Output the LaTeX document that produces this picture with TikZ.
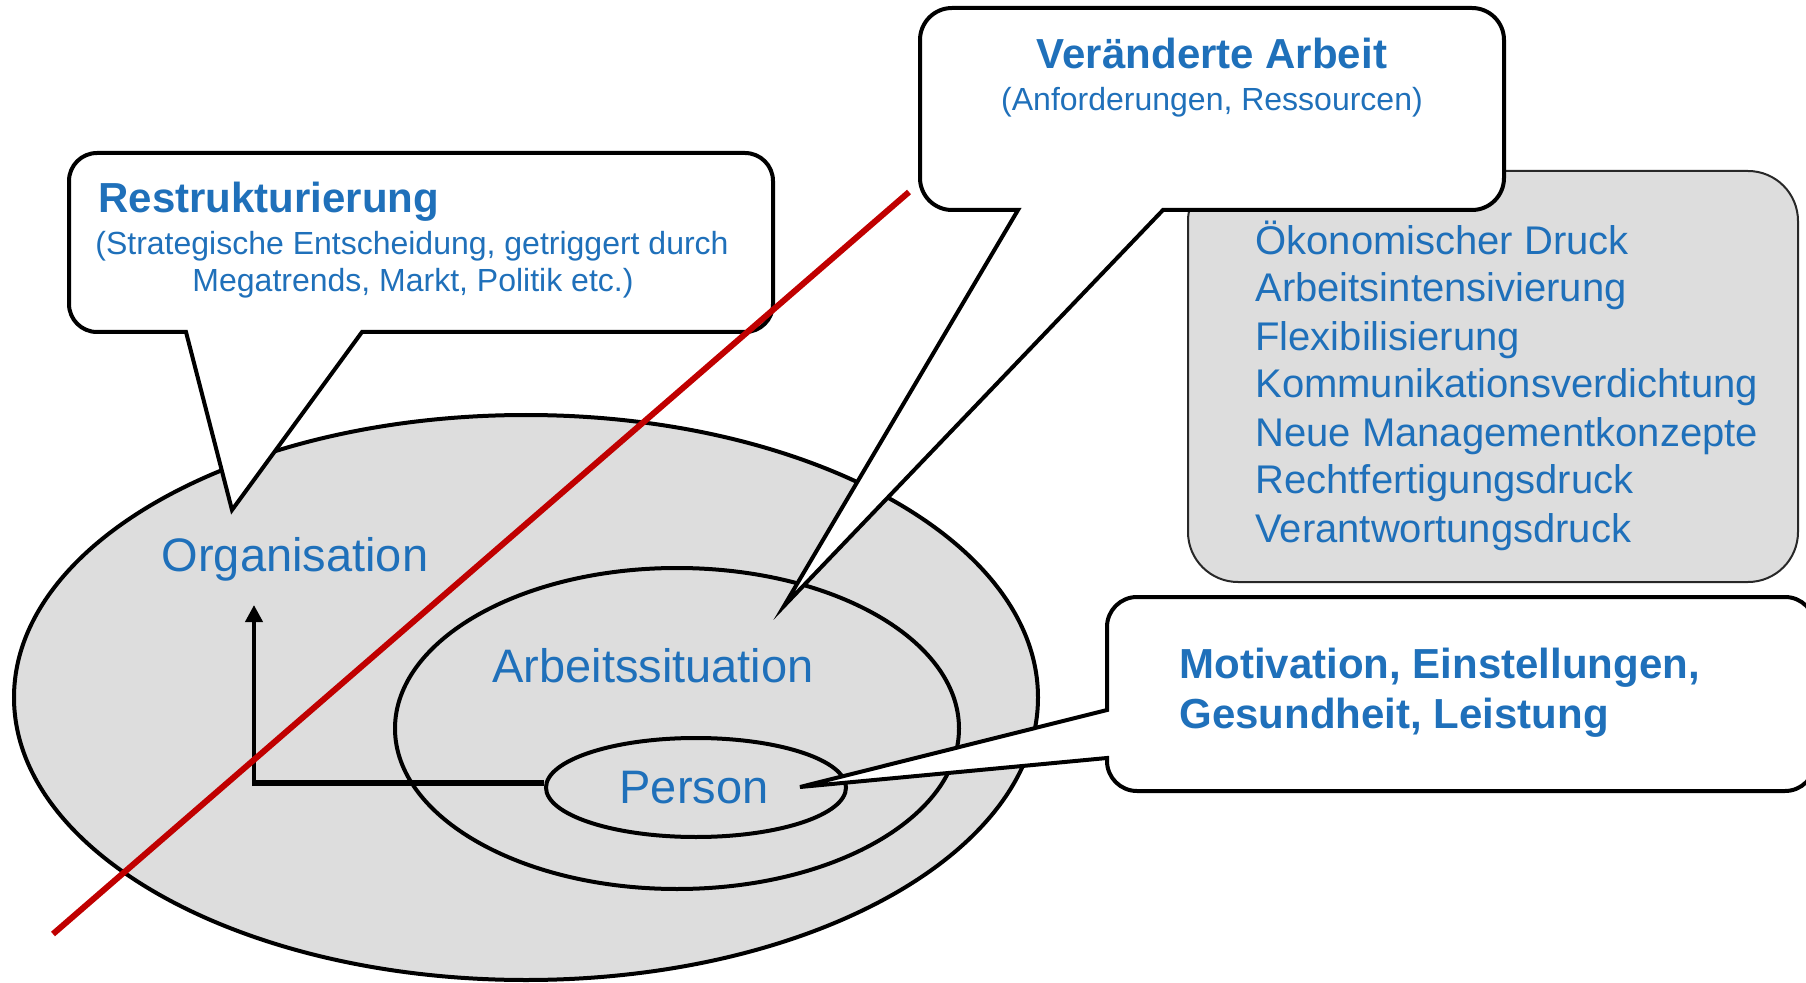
\documentclass[tikz,border=0pt]{standalone}
\usepackage{fontspec}
\setmainfont{Liberation Sans}
\usetikzlibrary{arrows.meta,shapes.geometric}
\definecolor{txtblue}{RGB}{31,112,186}
\definecolor{lgray}{RGB}{221,221,221}
\definecolor{redline}{RGB}{192,0,0}
\definecolor{boxline}{RGB}{40,40,40}
\tikzset{
  callout/.style={draw=black, fill=white, line width=2pt, line join=miter},
  lbl/.style={text=txtblue, font=\fontsize{23.5}{28}\selectfont, inner sep=0},
  head/.style={text=txtblue, font=\bfseries\fontsize{21}{25}\selectfont, inner sep=0},
  sub/.style={text=txtblue, font=\fontsize{16}{18}\selectfont, inner sep=0},
  item/.style={text=txtblue, font=\fontsize{20}{24}\selectfont, inner sep=0, anchor=base west},
}
\begin{document}
\begin{tikzpicture}[x=0.5pt,y=0.5pt]
\useasboundingbox (0,0) rectangle (1806,982);
\clip (0,0) rectangle (1806,982);

% ellipses
\draw[line width=2pt, fill=lgray] (526,284.5) ellipse [x radius=512, y radius=282.5];
\draw[line width=2pt, fill=lgray] (677,253.5) ellipse [x radius=282, y radius=160.5];
\node[draw, line width=2pt, fill=lgray, ellipse, minimum width=150pt, minimum height=49.5pt, inner sep=0] (person) at (696,194.5) {};

% arrow Person -> Organisation
\coordinate (corner) at (254,199);
\coordinate (tip) at (254,377);
\draw[line width=3pt] ([yshift=2.25pt]person.west) -- ([xshift=-1pt]corner);
\draw[line width=2pt, -{Triangle[length=8.5pt,width=8.5pt]}] ([yshift=-1.5pt]corner) -- (tip);

% labels in ellipses
\node[lbl, anchor=base] (org) at (295,411) {Organisation};
\node[lbl, anchor=base] (arb) at (653,300) {Arbeitssituation};
\node[lbl, anchor=base] (pers) at (694,179) {Person};

% grey list box
\draw[line width=1pt, draw=boxline, fill=lgray, rounded corners=25pt] (1188,400) rectangle (1798,811);
\node[item] (i1) at (1255,727) {Ökonomischer Druck};
\node[item] (i2) at (1255,680) {Arbeitsintensivierung};
\node[item] (i3) at (1255,632) {Flexibilisierung};
\node[item] (i4) at (1255,584) {Kommunikationsverdichtung};
\node[item] (i5) at (1255,536) {Neue Managementkonzepte};
\node[item] (i6) at (1255,488) {Rechtfertigungsdruck};
\node[item] (i7) at (1255,440) {Verantwortungsdruck};

% Restrukturierung callout
\draw[callout] (186,650) -- (232,472) -- (362,650) -- (745,650)
  arc[start angle=-90,end angle=0,radius=28] -- (773,801)
  arc[start angle=0,end angle=90,radius=28] -- (97,829)
  arc[start angle=90,end angle=180,radius=28] -- (69,678)
  arc[start angle=180,end angle=270,radius=28] -- cycle;

% Veraenderte Arbeit callout
\draw[callout] (1018,772) -- (784,376) -- (1163,772) -- (1472,772)
  arc[start angle=-90,end angle=0,radius=32] -- (1504,942)
  arc[start angle=0,end angle=90,radius=32] -- (952,974)
  arc[start angle=90,end angle=180,radius=32] -- (920,804)
  arc[start angle=180,end angle=270,radius=32] -- cycle;

% Motivation callout
\draw[callout] (1107,272) -- (800,195) -- (1107,224) -- (1107,221)
  arc[start angle=180,end angle=270,radius=30] -- (1785,191)
  arc[start angle=270,end angle=360,radius=30] -- (1815,355)
  arc[start angle=0,end angle=90,radius=30] -- (1137,385)
  arc[start angle=90,end angle=180,radius=30] -- cycle;

% red line
\coordinate (rl1) at (53,48);
\coordinate (rl2) at (909,790);
\draw[redline, line width=3pt] (rl1) -- (rl2);

% callout texts
\node[head, anchor=base west] (rh) at (98,769) {Restrukturierung};
\node[sub, anchor=base] (rs1) at (412,727) {(Strategische Entscheidung, getriggert durch};
\node[sub, anchor=base] (rs2) at (413,690) {Megatrends, Markt, Politik etc.)};

\node[head, anchor=base] (vh) at (1212,913) {Veränderte Arbeit};
\node[sub, anchor=base] (vs) at (1212,871) {(Anforderungen, Ressourcen)};

\node[head, anchor=base west] (m1) at (1179,304) {Motivation, Einstellungen,};
\node[head, anchor=base west] (m2) at (1179,254) {Gesundheit, Leistung};
\end{tikzpicture}
\end{document}
